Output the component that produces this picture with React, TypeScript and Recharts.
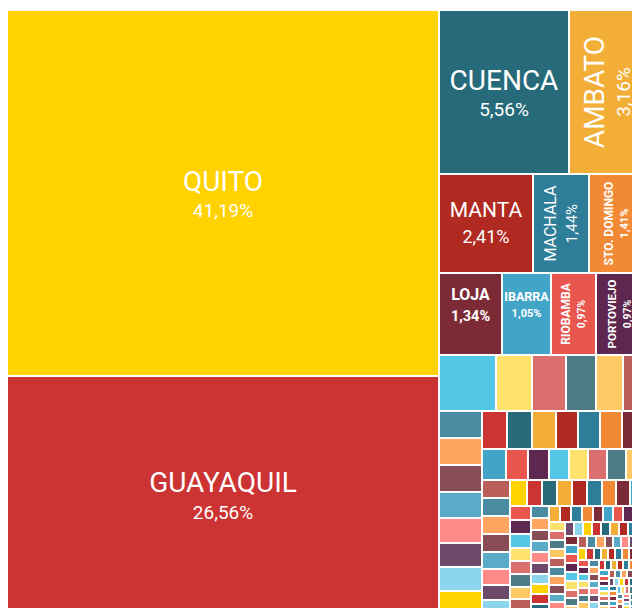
import React from "react";
import { Treemap } from "recharts";

// ─── Data (share of total, %) ────────────────────────────────────────────────
const CITIES = [
  "QUITO", "GUAYAQUIL", "CUENCA", "AMBATO", "MANTA", "MACHALA",
  "STO. DOMINGO", "LOJA", "IBARRA", "RIOBAMBA", "PORTOVIEJO",
];
const CITY_SHARES = [41.19, 26.56, 5.56, 3.16, 2.41, 1.44, 1.41, 1.34, 1.05, 0.97, 0.97];

// unlabeled cantons
const MID_SHARES = [
  0.83, 0.53, 0.49, 0.44, 0.39, 0.31,
  0.30, 0.30, 0.30, 0.29, 0.28, 0.27, 0.265, 0.255,
  0.245, 0.244, 0.242, 0.22, 0.218, 0.216, 0.20,
  0.19, 0.178, 0.167, 0.158, 0.155, 0.154, 0.152, 0.148,
  0.133, 0.133, 0.131, 0.13, 0.122, 0.113, 0.11, 0.105,
];
const SMALL_SHARES = [
  0.112, 0.104, 0.103, 0.102, 0.1, 0.099, 0.098, 0.097, 0.095,
  0.078, 0.076, 0.075, 0.073, 0.071, 0.069, 0.067, 0.065,
  0.056, 0.054, 0.053, 0.052, 0.051, 0.05, 0.049, 0.048, 0.047, 0.046,
  0.045, 0.045, 0.044, 0.044, 0.043, 0.043, 0.042, 0.042,
];
const TINY_SHARES = [
  0.040, 0.039, 0.039, 0.038, 0.038, 0.037, 0.037, 0.036, 0.036, 0.035, 0.035, 0.034,
  0.033, 0.033, 0.032, 0.032, 0.031, 0.031, 0.031, 0.030, 0.030, 0.030, 0.030, 0.029,
  0.029, 0.029, 0.028, 0.028, 0.028, 0.027, 0.027, 0.027, 0.026, 0.026,
  0.026, 0.025, 0.025, 0.024, 0.024, 0.023, 0.023, 0.022, 0.022, 0.022, 0.021, 0.021,
  0.021, 0.020, 0.020, 0.020, 0.020, 0.019, 0.019, 0.019, 0.019, 0.018,
  0.018, 0.018, 0.018, 0.017, 0.017, 0.017, 0.016, 0.016, 0.016, 0.016,
  0.015, 0.015, 0.015, 0.015, 0.014, 0.014, 0.014, 0.013, 0.013, 0.013,
  0.012, 0.012, 0.012, 0.012, 0.012, 0.012, 0.011, 0.011, 0.011, 0.011, 0.011, 0.011,
  0.010, 0.010, 0.010, 0.010, 0.010, 0.010, 0.009, 0.009, 0.009, 0.009, 0.009, 0.009,
  0.008, 0.008, 0.008, 0.008, 0.008, 0.008, 0.008, 0.008,
  0.007, 0.007, 0.007, 0.007, 0.007, 0.007, 0.007, 0.007,
  0.006, 0.006, 0.006, 0.006, 0.006, 0.006, 0.006,
  0.005, 0.005, 0.005, 0.005, 0.005, 0.005, 0.005,
];

const OTHER_SHARES = [...MID_SHARES, ...SMALL_SHARES, ...TINY_SHARES];

const data = [
  ...CITIES.map((name, i) => ({ name, value: CITY_SHARES[i] })),
  ...OTHER_SHARES.map((value, i) => ({ name: `otro-${i + 1}`, value })),
];

// ─── Palette (cycles by tile index) ──────────────────────────────────────────
const PALETTE = [
  "#FFD200", "#CC3333", "#276B7B", "#F2AE37", "#B12A22", "#2E7E9A",
  "#F28A35", "#7D2A37", "#42A5C8", "#E8564E", "#5E2750", "#53C8E6",
  "#FFE26B", "#DB6F6E", "#4D7B86", "#FFC966", "#B95E58", "#4B8BA2",
  "#FFA55F", "#874C55", "#5AABC8", "#FF8B88", "#6D4A69", "#8BD6EC",
];

// label styling for the named tiles
type LabelStyle = { fn: number; fp: number; bold?: boolean; rot?: boolean; dy?: number };
const LABEL_STYLE: Record<string, LabelStyle> = {
  QUITO: { fn: 28, fp: 19, dy: 1 },
  GUAYAQUIL: { fn: 28, fp: 19, dy: 1 },
  CUENCA: { fn: 28, fp: 19, dy: 1 },
  AMBATO: { fn: 28, fp: 19, rot: true, dy: 1 },
  MANTA: { fn: 21, fp: 18, dy: -1 },
  MACHALA: { fn: 16, fp: 15, rot: true },
  "STO. DOMINGO": { fn: 12, fp: 11, bold: true, rot: true },
  LOJA: { fn: 16, fp: 14.5, bold: true, dy: -9 },
  IBARRA: { fn: 12.5, fp: 11, bold: true, dy: -9.5 },
  RIOBAMBA: { fn: 12, fp: 10.5, bold: true, rot: true },
  PORTOVIEJO: { fn: 11.5, fp: 10.5, bold: true, rot: true },
};

const fmtPct = (v: number) => v.toFixed(2).replace(".", ",") + "%";

function Tile(props: any) {
  const { x, y, width, height, index, depth, name, value } = props;
  if (depth !== 1) return null;
  const fill = PALETTE[index % PALETTE.length];
  const lab = LABEL_STYLE[name];
  let label = null;
  if (lab) {
    const cx = x + width / 2;
    const cy = y + height / 2;
    const capN = lab.fn * 0.71;
    const capP = lab.fp * 0.71;
    const total = capN + lab.fp * 0.7 + capP;
    const top = cy + (lab.dy ?? 0) - total / 2;
    label = (
      <g
        transform={lab.rot ? `rotate(-90, ${cx}, ${cy})` : undefined}
        fill="#fff"
        fontFamily="Roboto, 'Noto Sans', sans-serif"
        fontWeight={lab.bold ? 700 : 400}
        textAnchor="middle"
      >
        <text x={cx} y={top + capN} fontSize={lab.fn}>
          {name}
        </text>
        <text x={cx} y={top + total} fontSize={lab.fp}>
          {fmtPct(value)}
        </text>
      </g>
    );
  }
  return (
    <g>
      <rect x={x} y={y} width={width} height={height} fill={fill} stroke="#fff" strokeWidth={2} />
      {label}
    </g>
  );
}

export default function App() {
  return (
    <div
      style={{
        position: "fixed",
        left: 0,
        top: 0,
        width: 632,
        height: 608,
        overflow: "hidden",
        background: "#fff",
      }}
    >
      <div style={{ position: "absolute", left: 7, top: 10 }}>
        <Treemap
          width={636}
          height={603}
          data={data}
          dataKey="value"
          nameKey="name"
          isAnimationActive={false}
          content={<Tile />}
        />
      </div>
    </div>
  );
}
